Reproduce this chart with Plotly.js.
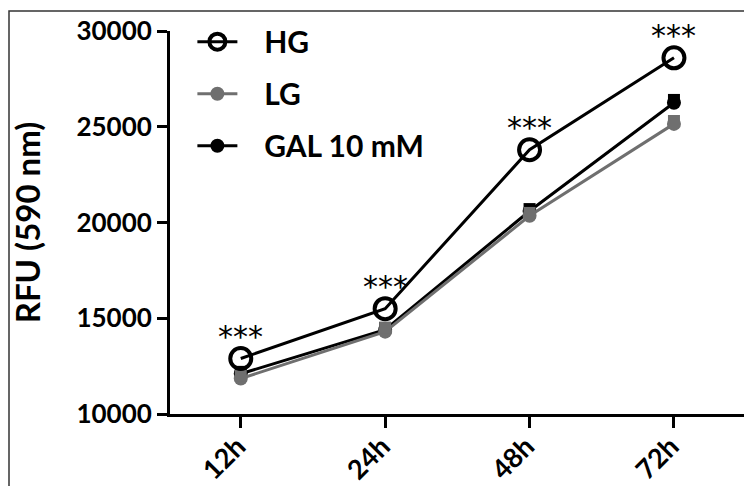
<!DOCTYPE html>
<html>
<head>
<meta charset="utf-8">
<script src="https://cdn.plot.ly/plotly-3.0.1.min.js"></script>
<style>
html,body{margin:0;padding:0;background:#fff;}
#chart{width:744px;height:486px;}
</style>
</head>
<body>
<div id="chart"></div>
<script>
// Data
const categories = ['12h', '24h', '48h', '72h'];
const HG = [12900, 15500, 23800, 28600];
const LG = [11850, 14300, 20350, 25150];
const LG_sq = [12000, 14500, 20500, 25300];
const GAL = [12100, 14400, 20600, 26250];
const GAL_sq = [12200, 14500, 20700, 26400];
const sigLabels = ['***', '***', '***', '***'];
const yTicks = [10000, 15000, 20000, 25000, 30000];
const yTickText = ['10000', '15000', '20000', '25000', '30000'];

const GRAY = '#6f6f6f';
const FONT = 'Lato, "Open Sans", sans-serif';
const PAD = '\u00A0\u00A0\u00A0';

const traces = [
  {x: categories, y: GAL, name: PAD + 'GAL 10 mM', type: 'scatter', mode: 'lines+markers',
   line: {color: '#000', width: 3}, marker: {symbol: 'circle', size: 14, color: '#000'},
   legendgroup: 'c', legendrank: 3},
  {x: categories, y: GAL_sq, type: 'scatter', mode: 'markers', showlegend: false, hoverinfo: 'skip',
   marker: {symbol: 'square', size: 12, color: '#000'}, legendgroup: 'c'},
  {x: categories, y: LG, name: PAD + 'LG', type: 'scatter', mode: 'lines+markers',
   line: {color: GRAY, width: 3}, marker: {symbol: 'circle', size: 14, color: GRAY},
   legendgroup: 'b', legendrank: 2},
  {x: categories, y: LG_sq, type: 'scatter', mode: 'markers', showlegend: false, hoverinfo: 'skip',
   marker: {symbol: 'square', size: 12, color: GRAY}, legendgroup: 'b'},
  {x: categories, y: HG, name: PAD + 'HG', type: 'scatter', mode: 'lines+markers',
   line: {color: '#000', width: 3},
   marker: {symbol: 'circle-open', size: 21, color: '#000', line: {width: 4, color: '#000'}},
   legendgroup: 'a', legendrank: 1}
];

const annotations = categories.map((c, i) => ({
  x: c, y: HG[i], xref: 'x', yref: 'y', text: sigLabels[i], showarrow: false,
  yshift: 22, font: {family: '"DejaVu Sans", sans-serif', size: 30, color: '#000'}
}));

const layout = {
  width: 744, height: 486,
  margin: {l: 170, r: 0, t: 31, b: 72, pad: 0},
  paper_bgcolor: '#fff', plot_bgcolor: '#fff',
  font: {family: FONT, color: '#000'},
  showlegend: true,
  legend: {
    x: 0.039, y: 1.04, xanchor: 'left', yanchor: 'top',
    traceorder: 'grouped', tracegroupgap: 10,
    font: {family: FONT, size: 30, color: '#000', weight: 'bold'},
    bgcolor: 'rgba(0,0,0,0)', itemwidth: 40
  },
  xaxis: {
    type: 'category', categoryorder: 'array', categoryarray: categories,
    range: [-0.49, 3.485],
    showline: true, linecolor: '#000', linewidth: 3,
    ticks: 'outside', ticklen: 11, tickwidth: 3, tickcolor: '#000',
    tickangle: -45, showgrid: false, zeroline: false,
    ticklabelstandoff: -8, ticklabelshift: -3,
    tickfont: {family: FONT, size: 27, color: '#000', weight: 'bold'}
  },
  yaxis: {
    range: [10000, 30000], tickvals: yTicks, ticktext: yTickText,
    showline: true, linecolor: '#000', linewidth: 3,
    ticks: 'outside', ticklen: 10, tickwidth: 3, tickcolor: '#000',
    showgrid: false, zeroline: false,
    tickfont: {family: FONT, size: 26, color: '#000', weight: 'bold'},
    title: {text: 'RFU (590 nm)', standoff: 26,
            font: {family: FONT, size: 33, color: '#000', weight: 'bold'}}
  },
  annotations: annotations,
  shapes: [{
    type: 'rect', xref: 'paper', yref: 'paper',
    x0: (9 - 170) / 574, x1: 1.2, y0: -0.5, y1: (414 - 11) / 383,
    line: {color: '#333', width: 1.5}, fillcolor: 'rgba(0,0,0,0)', layer: 'below'
  }]
};

Plotly.newPlot('chart', traces, layout, {displayModeBar: false, staticPlot: true});
</script>
</body>
</html>
